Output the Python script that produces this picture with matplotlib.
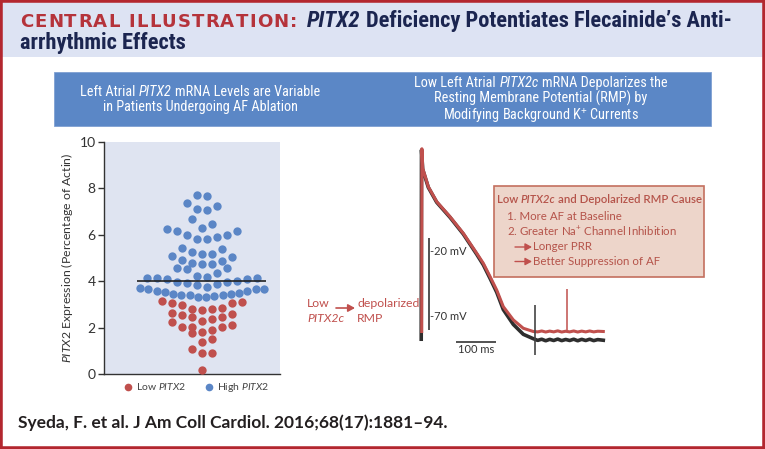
import matplotlib
matplotlib.use("Agg")
import matplotlib.pyplot as plt
from matplotlib import font_manager as fm
from matplotlib.patches import Rectangle, FancyArrowPatch

W, H = 765, 449

# ---- values ----
low_pitx2 = [0.17, 0.92, 0.92, 1.08, 1.37, 1.52, 1.78, 1.81, 1.90, 2.01, 2.01, 2.03, 2.11, 2.23,
             2.30, 2.36, 2.44, 2.44, 2.56, 2.59, 2.64,
             2.76, 2.79, 2.80, 2.83, 2.96, 3.07, 3.07, 3.09, 3.16]
high_pitx2 = [3.33, 3.33, 3.38, 3.41, 3.41, 3.42, 3.45, 3.45, 3.48, 3.52, 3.58, 3.59, 3.65, 3.65, 3.65, 3.69,
              3.77, 3.85, 3.86, 3.91, 3.97, 3.97, 4.01, 4.08, 4.09, 4.14, 4.14, 4.14,
              4.20, 4.22, 4.37, 4.51, 4.55, 4.55,
              4.75, 4.75, 4.77, 4.88, 4.91, 5.03, 5.10,
              5.19, 5.19, 5.26, 5.37, 5.45,
              5.82, 5.83, 5.89, 5.98, 5.99, 6.16, 6.18, 6.24,
              6.31, 6.45, 6.69,
              7.08, 7.10, 7.24, 7.38,
              7.67, 7.72]
mean_value = 4.0
y_ticks = [0, 2, 4, 6, 8, 10]

# action potentials (ms, mV)
ap_red_t = [0, 0.5, 2.5, 16.5, 37.5, 70.8, 104, 137.5, 154, 171, 187.5, 204, 229, 254, 279,
            290, 300, 310, 320, 330, 340, 350, 360, 370, 380, 390, 400, 410, 420, 430, 440, 454]
ap_red_v = [-82, 60, 44.8, 30.5, 18.9, 7.2, -5.7, -21.2, -29, -39.4, -49.8, -62.7, -73, -79.5, -82.0,
            -82.3, -81.6, -82.4, -81.7, -82.3, -81.5, -82.4, -81.8, -82.3, -81.6, -82.4, -81.7,
            -82.3, -81.6, -82.3, -81.8, -82.0]
ap_black_t = [-1.2, -0.5, 2.5, 16.5, 37.5, 70.8, 104, 137.5, 154, 171, 187.5, 204, 229, 254, 279,
              290, 300, 310, 320, 330, 340, 350, 360, 370, 380, 390, 400, 410, 420, 430, 440, 454]
ap_black_v = [-88, 59, 44.0, 30.0, 18.4, 6.7, -6.3, -22.0, -30.2, -40.8, -51.5, -65.0, -76.5, -84.2, -87.6,
              -88.9, -88.0, -89.2, -88.1, -89.0, -87.9, -89.1, -88.2, -89.0, -88.0, -89.2, -88.1,
              -89.0, -88.0, -89.1, -88.3, -88.8]
red_spike_t, red_spike_v = 362.5, (-82.0, -49.2)
black_mark_t, black_mark_v = 283, (-61.4, -100.3)
vbar_t, vbar_v = 18, (-9.6, -80.8)
vbar_labels = [-20, -70]
hbar_v, hbar_t = -90.4, (86, 186)

# ---- fonts ----
installed = {f.name for f in fm.fontManager.ttflist}


def pick(*names):
    for n in names:
        if n in installed:
            return n
    return "DejaVu Sans"


NARROW = pick("Liberation Sans Narrow", "Roboto Condensed", "Roboto")
BODY = pick("Lato", "Open Sans", "DejaVu Sans")
plt.rcParams["font.family"] = [BODY, "DejaVu Sans"]
plt.rcParams["mathtext.fontset"] = "custom"
plt.rcParams["mathtext.rm"] = BODY
plt.rcParams["mathtext.it"] = BODY + ":italic"
plt.rcParams["mathtext.bf"] = BODY + ":bold"

RED = "#c0504d"
BLUE = "#5b86c6"
NAVY = "#1b2550"

fig = plt.figure(figsize=(W / 100, H / 100), dpi=100)
ren = fig.canvas.get_renderer()


def fx(x):
    return x / W


def fy(y):
    return 1 - y / H


def text_runs(x, y, parts, ha="left", width=None, track=0.0):
    """Place pieces of text with different styles one after another on a baseline (pixel coords)."""
    objs, gaps = [], []
    for s, kw in parts:
        gap = 0.0
        if s.startswith(" "):
            a = fig.text(0, 0, "n n", **kw)
            b = fig.text(0, 0, "nn", **kw)
            gap = a.get_window_extent(ren).width - b.get_window_extent(ren).width
            a.remove()
            b.remove()
            s = s.lstrip()
        objs.append(fig.text(0, fy(y), s, va="baseline", **kw))
        gaps.append(gap)

    def widths():
        return [o.get_window_extent(ren).width for o in objs]

    ws = widths()
    if width is not None:
        total = sum(ws) + sum(gaps) + track * (len(objs) - 1)
        k = (width - track * (len(objs) - 1)) / (total - track * (len(objs) - 1))
        for o in objs:
            o.set_fontsize(o.get_fontsize() * k)
        gaps = [g * k for g in gaps]
        ws = widths()
    total = sum(ws) + sum(gaps) + track * (len(objs) - 1)
    x0 = x - total / 2 if ha == "center" else x
    for o, w, g in zip(objs, ws, gaps):
        x0 += g
        o.set_x(fx(x0))
        x0 += w + track
    return objs[0].get_fontsize()


# ---- background pieces ----
fig.patches.append(Rectangle((0, fy(57)), 1, 57 / H, transform=fig.transFigure,
                             fc="#dde3f3", ec="none", zorder=0))
fig.patches.append(Rectangle((fx(54), fy(126)), (711 - 54) / W, 54 / H, transform=fig.transFigure,
                             fc="#5b87c6", ec="#7fa0d2", lw=0.6, zorder=1))
fig.patches.append(Rectangle((fx(494), fy(277)), 210 / W, 91 / H, transform=fig.transFigure,
                             fc="#edd5ca", ec="#c4705f", lw=1.2, zorder=1))
fig.patches.append(Rectangle((0, 0), 1, 1, transform=fig.transFigure, fill=False,
                             ec="#b3272f", lw=4, zorder=10))

# ---- title ----
title_red = dict(color="#b5333b", family="DejaVu Sans", weight="bold", fontsize=12.5)
text_runs(20, 27, [(c, title_red) for c in "CENTRAL ILLUSTRATION:"], width=280, track=1.2)
tkw = dict(color=NAVY, family=NARROW, weight="bold", fontsize=14)
tsize = text_runs(307, 27, [("PITX2", dict(tkw, style="italic")),
                            (" Deficiency Potentiates Flecainide\u2019s Anti-", tkw)], width=427)
text_runs(20, 49, [("arrhythmic Effects", dict(tkw, fontsize=tsize))])

# ---- banner ----
bkw = dict(color="white", family=NARROW, fontsize=9.5)
bi = dict(bkw, style="italic")
bs = text_runs(200, 95.5, [("Left Atrial", bkw), (" PITX2", bi), (" mRNA Levels are Variable", bkw)],
               ha="center", width=240)
bkw["fontsize"] = bs
bi["fontsize"] = bs
text_runs(200, 111, [("in Patients Undergoing AF Ablation", bkw)], ha="center")
text_runs(541, 87, [("Low Left Atrial", bkw), (" PITX2c", bi), (" mRNA Depolarizes the", bkw)], ha="center")
text_runs(541, 103, [("Resting Membrane Potential (RMP) by", bkw)], ha="center")
text_runs(541, 119.5, [("Modifying Background K$^{+}$ Currents", bkw)], ha="center")


# ---- dot plot ----
def prism_rows(values, band=0.425, step=10.0, max_span=124.0):
    vals = sorted(values)
    xs, ys = [], []
    i = 0
    while i < len(vals):
        j = i
        while j < len(vals) and vals[j] < vals[i] + band:
            j += 1
        n = j - i
        sp = step if n < 2 else min(step, max_span / (n - 1))
        for k in range(n):
            if n % 2:
                off = ((k + 1) // 2) * (1 if k % 2 else -1)
            else:
                off = (k // 2 + 0.5) * (1 if k % 2 == 0 else -1)
            xs.append(off * sp)
            ys.append(vals[i + k])
        i = j
    return xs, ys


ax = fig.add_axes([fx(104), fy(374), 176 / W, 232 / H])
ax.set_facecolor("#dfe4f1")
for v, c in [(high_pitx2, BLUE), (low_pitx2, RED)]:
    xs, ys = prism_rows(v)
    ax.scatter(xs, ys, s=36, color=c, linewidths=0, zorder=3)
ax.hlines(mean_value, -65, 64, color="#222222", lw=1.2, zorder=4)
ax.set_xlim(-98, 78)
ax.set_ylim(0, 10)
ax.set_xticks([])
ax.set_yticks(y_ticks)
ax.tick_params(axis="y", labelsize=10, colors="#333333", length=4, width=1, pad=2)
for s in ["top", "right"]:
    ax.spines[s].set_visible(False)
for s in ["left", "bottom"]:
    ax.spines[s].set_color("#333333")
    ax.spines[s].set_linewidth(1.0)
ax.set_ylabel(r"$\mathit{PITX2}$ Expression (Percentage of Actin)", fontsize=8.8, color="#333333")
ax.yaxis.set_label_coords((75 - 104) / 176, 0.5)

# legend under the dot plot
for xd, c, lab in [(128, RED, r"Low $\mathit{PITX2}$"), (209, BLUE, r"High $\mathit{PITX2}$")]:
    ax.plot([(xd - 104) - 98], [-(386.5 - 374) / 23.2], "o", ms=5.5, color=c, mec="none", clip_on=False)
    fig.text(fx(xd + 8), fy(387), lab, va="center", fontsize=7.5, color="#444444")

# ---- action potentials ----
ax2 = fig.add_axes([fx(400), fy(360), 220 / W, 220 / H])
ax2.axis("off")
ax2.set_xlim(-54.25, 495.75)
ax2.set_ylim(-104.15, 66.8)
ax2.plot(ap_black_t, ap_black_v, color="#2e2e2e", lw=2.6, solid_joinstyle="round")
ax2.plot(ap_red_t, ap_red_v, color=RED, lw=2.2, solid_joinstyle="round")
ax2.vlines(red_spike_t, *red_spike_v, color=RED, lw=1.1)
ax2.vlines(black_mark_t, *black_mark_v, color="#444444", lw=1.2)
ax2.vlines(vbar_t, *vbar_v, color="#444444", lw=1.3)
ax2.hlines(hbar_v, *hbar_t, color="#444444", lw=1.3)
for v in vbar_labels:
    ax2.text(vbar_t + 2, v, "-%d mV" % abs(v), va="center", ha="left", fontsize=8, color="#333333")
ax2.text(sum(hbar_t) / 2, hbar_v - 1.5, "100 ms", va="top", ha="center", fontsize=8, color="#333333")

# ---- side notes ----
rkw = dict(color=RED, fontsize=8.8)
text_runs(307, 307, [("Low", rkw)])
text_runs(307, 321.5, [("PITX2c", dict(rkw, style="italic"))])
text_runs(357, 307, [("depolarized", rkw)])
text_runs(357, 321.5, [("RMP", rkw)])


def arrow(x0, x1, y, lw=1.2):
    fig.patches.append(FancyArrowPatch((fx(x0), fy(y)), (fx(x1), fy(y)), transform=fig.transFigure,
                                       arrowstyle="-|>,head_length=4,head_width=2.2", color=RED,
                                       lw=lw, shrinkA=0, shrinkB=0, zorder=5))


arrow(336, 355, 308)

# box text
xkw = dict(color="#b5534a", fontsize=8.5, weight="semibold")
text_runs(497, 203, [("Low", xkw), (" PITX2c", dict(xkw, style="italic")),
                     (" and Depolarized RMP Cause", xkw)], width=205)
lkw = dict(color="#b5534a", fontsize=8.2)
ls = text_runs(507, 236, [("2. Greater Na$^{+}$ Channel Inhibition", lkw)], width=169)
lkw["fontsize"] = ls
text_runs(507, 220.5, [("1. More AF at Baseline", lkw)])
arrow(515, 532, 247, lw=1.0)
text_runs(533, 250.5, [("Longer PRR", lkw)])
arrow(515, 532, 261.5, lw=1.0)
text_runs(533, 265, [("Better Suppression of AF", lkw)])

# ---- citation ----
text_runs(18, 428, [("Syeda, F. et al. J Am Coll Cardiol. 2016;68(17):1881\u201394.",
                     dict(color="#231f20", weight="bold", fontsize=11.5))], width=430)

fig.savefig("out.png", dpi=100)
